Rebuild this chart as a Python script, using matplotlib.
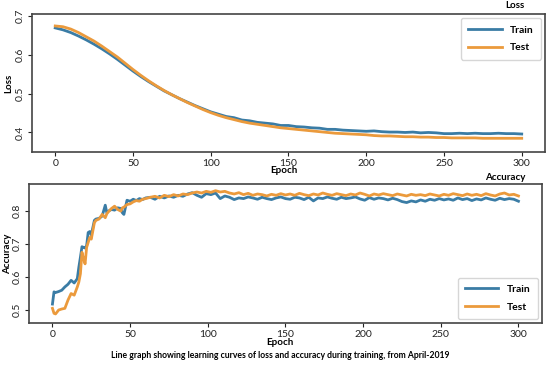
import matplotlib
matplotlib.use("Agg")
import matplotlib.pyplot as plt

# ── Data ─────────────────────────────────────────────────────────────────────
loss_epochs = list(range(0, 301, 5))
loss_train = [
    0.669, 0.664, 0.657, 0.648, 0.638, 0.627, 0.615, 0.602, 0.588, 0.573,
    0.558, 0.544, 0.531, 0.519, 0.507, 0.497, 0.487, 0.478, 0.469, 0.461,
    0.453,
    0.447, 0.441, 0.438, 0.432, 0.430, 0.426, 0.424, 0.422, 0.418, 0.418,
    0.415, 0.414, 0.412, 0.411, 0.408, 0.408, 0.406, 0.405, 0.404, 0.403,
    0.404, 0.402, 0.401, 0.401, 0.400, 0.401, 0.399, 0.400, 0.399, 0.397,
    0.397, 0.398, 0.397, 0.398, 0.397, 0.397, 0.398, 0.397, 0.397, 0.396,
]
loss_test = [
    0.674, 0.672, 0.666, 0.657, 0.646, 0.635, 0.622, 0.608, 0.594, 0.578,
    0.562, 0.547, 0.533, 0.520, 0.508, 0.497, 0.487, 0.477, 0.468, 0.459,
    0.451,
    0.444, 0.438, 0.433, 0.428, 0.424, 0.421, 0.418, 0.415, 0.412, 0.410,
    0.408, 0.406, 0.404, 0.402, 0.400, 0.398, 0.397, 0.396, 0.395, 0.394,
    0.392, 0.391, 0.391, 0.390, 0.389, 0.389, 0.388, 0.388, 0.387, 0.387,
    0.386, 0.386, 0.386, 0.386, 0.385, 0.385, 0.385, 0.385, 0.385, 0.385,
]

acc_epochs = [0, 1, 2, 4, 6, 8, 10, 12, 14, 16, 17, 18, 19, 20, 21, 22, 23,
              24, 25, 26, 27, 28, 30, 32, 34, 35, 36, 38, 40, 42, 44, 45, 46,
              48, 50, 52, 54, 56, 58, 60] + list(range(63, 301, 3))
acc_train = [
    0.518, 0.555, 0.553, 0.556, 0.560, 0.570, 0.578, 0.590, 0.582, 0.595,
    0.630, 0.660, 0.692, 0.690, 0.688, 0.695, 0.735, 0.738, 0.728, 0.750,
    0.772, 0.776, 0.778, 0.785, 0.818, 0.795, 0.800, 0.805, 0.803, 0.810,
    0.808, 0.795, 0.790, 0.833, 0.830, 0.836, 0.832, 0.838, 0.835, 0.840,
    0.842, 0.836, 0.845, 0.840, 0.846, 0.842, 0.848, 0.845, 0.852, 0.856,
    0.848, 0.842, 0.853, 0.850, 0.855, 0.838, 0.846, 0.842, 0.835, 0.840,
    0.838, 0.843, 0.840, 0.836, 0.842, 0.838, 0.835, 0.840, 0.843, 0.838,
    0.836, 0.842, 0.840, 0.835, 0.842, 0.831, 0.840, 0.838, 0.843, 0.839,
    0.836, 0.842, 0.838, 0.840, 0.843, 0.837, 0.833, 0.841, 0.836, 0.840,
    0.838, 0.834, 0.839, 0.835, 0.829, 0.826, 0.831, 0.828, 0.834, 0.830,
    0.836, 0.833, 0.838, 0.834, 0.837, 0.833, 0.840, 0.835, 0.838, 0.832,
    0.837, 0.834, 0.840, 0.836, 0.833, 0.839, 0.835, 0.838, 0.836, 0.830,
]
acc_test = [
    0.505, 0.490, 0.488, 0.500, 0.503, 0.505, 0.530, 0.550, 0.545, 0.570,
    0.585, 0.610, 0.675, 0.655, 0.640, 0.690, 0.705, 0.720, 0.715, 0.740,
    0.765, 0.772, 0.776, 0.790, 0.780, 0.792, 0.798, 0.808, 0.815, 0.805,
    0.800, 0.810, 0.812, 0.820, 0.822, 0.828, 0.832, 0.830, 0.836, 0.838,
    0.842, 0.845, 0.840, 0.848, 0.844, 0.850, 0.846, 0.852, 0.850, 0.855,
    0.858, 0.855, 0.860, 0.857, 0.862, 0.858, 0.860, 0.855, 0.852, 0.856,
    0.850, 0.854, 0.848, 0.852, 0.850, 0.846, 0.851, 0.848, 0.853, 0.849,
    0.852, 0.848, 0.854, 0.850, 0.847, 0.852, 0.849, 0.855, 0.851, 0.848,
    0.853, 0.850, 0.847, 0.852, 0.849, 0.855, 0.851, 0.846, 0.852, 0.849,
    0.853, 0.850, 0.847, 0.852, 0.849, 0.846, 0.851, 0.848, 0.850, 0.847,
    0.852, 0.849, 0.846, 0.851, 0.848, 0.853, 0.850, 0.847, 0.852, 0.848,
    0.851, 0.847, 0.853, 0.849, 0.846, 0.852, 0.855, 0.849, 0.851, 0.846,
]

loss_ticks = [0.4, 0.5, 0.6, 0.7]
acc_ticks = [0.5, 0.6, 0.7, 0.8]
epoch_ticks = [0, 50, 100, 150, 200, 250, 300]

C_TRAIN = "#3a7ca5"
C_TEST = "#eb9a3c"
SPINE = "#444444"

plt.rcParams["font.family"] = ["Lato", "DejaVu Sans"]

fig = plt.figure(figsize=(5.5, 3.66), dpi=100)
ax1 = fig.add_axes([0.058, 0.585, 0.933, 0.377])
ax2 = fig.add_axes([0.053, 0.117, 0.932, 0.380])


def style(ax, yticks):
    for s in ax.spines.values():
        s.set_color(SPINE)
        s.set_linewidth(1.2)
    ax.set_xlim(-15, 315)
    ax.set_xticks(epoch_ticks)
    ax.set_yticks(yticks)
    ax.tick_params(axis="both", labelsize=7.5, colors="#222222",
                   length=3, width=0.8, pad=2)
    for lb in ax.get_yticklabels():
        lb.set_rotation(90)
        lb.set_va("center")


LEG = dict(prop={"weight": "bold", "size": 7.5}, handlelength=3.2,
           labelspacing=0.8, borderpad=0.7, borderaxespad=0.4,
           edgecolor="#cccccc")

# ── Loss panel ────────────────────────────────────────────────────────────────
ax1.plot(loss_epochs, loss_train, color=C_TRAIN, lw=2.0, label="Train")
ax1.plot(loss_epochs, loss_test, color=C_TEST, lw=2.0, label="Test")
ax1.set_ylim(0.35, 0.705)
style(ax1, loss_ticks)
ax1.set_ylabel("Loss", fontsize=7, fontweight="bold", labelpad=2)
ax1.legend(loc="upper right", **LEG)

# ── Accuracy panel ────────────────────────────────────────────────────────────
ax2.plot(acc_epochs, acc_train, color=C_TRAIN, lw=2.0, label="Train")
ax2.plot(acc_epochs, acc_test, color=C_TEST, lw=2.0, label="Test")
ax2.set_ylim(0.46, 0.882)
style(ax2, acc_ticks)
ax2.set_ylabel("Accuracy", fontsize=7, fontweight="bold", labelpad=1)
ax2.legend(loc="lower right", **LEG)

# titles / labels placed as in the reference collage
fig.text(0.936, 0.986, "Loss", ha="center", va="center",
         fontsize=7, fontweight="bold")
fig.text(0.918, 0.514, "Accuracy", ha="center", va="center",
         fontsize=7, fontweight="bold")
fig.text(0.516, 0.533, "Epoch", ha="center", va="center",
         fontsize=7, fontweight="bold")
fig.text(0.509, 0.063, "Epoch", ha="center", va="center",
         fontsize=7, fontweight="bold")
fig.text(0.509, 0.030,
         "Line graph showing learning curves of loss and accuracy during training, from April-2019",
         ha="center", va="center", fontsize=6.2, fontweight="bold")

fig.savefig("out.png", dpi=100)
